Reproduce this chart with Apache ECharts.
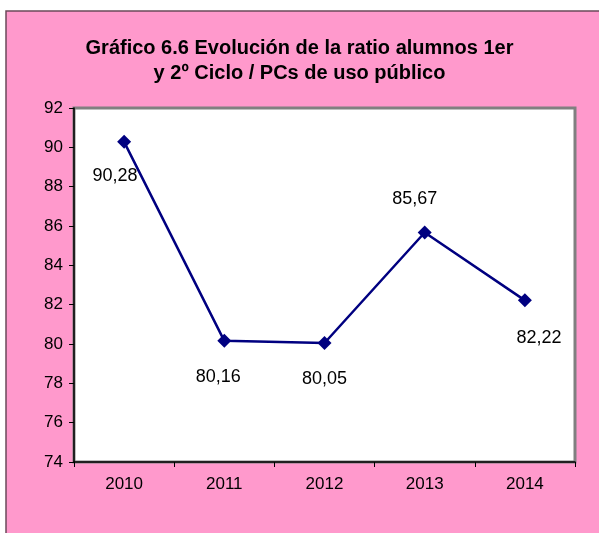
<!DOCTYPE html>
<html>
<head>
<meta charset="utf-8">
<script src="https://cdn.jsdelivr.net/npm/echarts@6/dist/echarts.min.js"></script>
<style>
  html, body { margin: 0; padding: 0; background: #fff; }
  #main { width: 599px; height: 533px; }
</style>
</head>
<body>
<div id="main"></div>
<script>
// datos del gráfico
const years = ['2010', '2011', '2012', '2013', '2014'];
const ratio = [90.28, 80.16, 80.05, 85.67, 82.22];
const yTicks = [74, 76, 78, 80, 82, 84, 86, 88, 90, 92];

// desplazamiento de cada etiqueta respecto a su punto
const labelOffsets = [[-9, 34], [-6, 36], [0, 36], [-10, -33], [14, 38]];

const chart = echarts.init(document.getElementById('main'));

const option = {
  backgroundColor: '#ffffff',
  animation: false,
  graphic: [{
    type: 'rect',
    z: -10,
    shape: { x: 6, y: 11, width: 600, height: 530 },
    style: { fill: '#FF99CC', stroke: '#6b4a5a', lineWidth: 1.5 }
  }],
  title: {
    text: 'Gráfico 6.6 Evolución de la ratio alumnos 1er\ny 2º Ciclo / PCs de uso público',
    left: 'center',
    top: 31,
    textStyle: {
      fontFamily: 'Liberation Sans, Arial, sans-serif',
      fontSize: 20,
      fontWeight: 'bold',
      color: '#000',
      lineHeight: 25
    }
  },
  grid: {
    left: 74,
    top: 108,
    right: 24,
    bottom: 71,
    show: true,
    backgroundColor: '#ffffff',
    borderColor: '#808080',
    borderWidth: 3
  },
  xAxis: {
    type: 'category',
    data: years,
    boundaryGap: true,
    axisLine: { lineStyle: { color: '#000', width: 1.5 } },
    axisTick: { show: true, length: 5, lineStyle: { color: '#000' } },
    axisLabel: {
      color: '#000',
      fontFamily: 'Liberation Sans, Arial, sans-serif',
      fontSize: 17,
      margin: 14
    },
    splitLine: { show: false }
  },
  yAxis: {
    type: 'value',
    min: yTicks[0],
    max: yTicks[yTicks.length - 1],
    interval: 2,
    axisLine: { show: true, lineStyle: { color: '#000', width: 1.5 } },
    axisTick: { show: true, length: 5, lineStyle: { color: '#000' } },
    axisLabel: {
      color: '#000',
      fontFamily: 'Liberation Sans, Arial, sans-serif',
      fontSize: 17,
      margin: 11
    },
    splitLine: { show: false }
  },
  series: [{
    type: 'line',
    data: ratio.map((v, i) => ({
      value: v,
      label: { offset: labelOffsets[i] }
    })),
    symbol: 'diamond',
    symbolSize: 14,
    lineStyle: { color: '#000080', width: 2.5 },
    itemStyle: { color: '#000080' },
    label: {
      show: true,
      position: 'inside',
      color: '#000',
      fontFamily: 'Liberation Sans, Arial, sans-serif',
      fontSize: 18,
      formatter: p => p.value.toFixed(2).replace('.', ',')
    }
  }]
};

chart.setOption(option);
</script>
</body>
</html>
